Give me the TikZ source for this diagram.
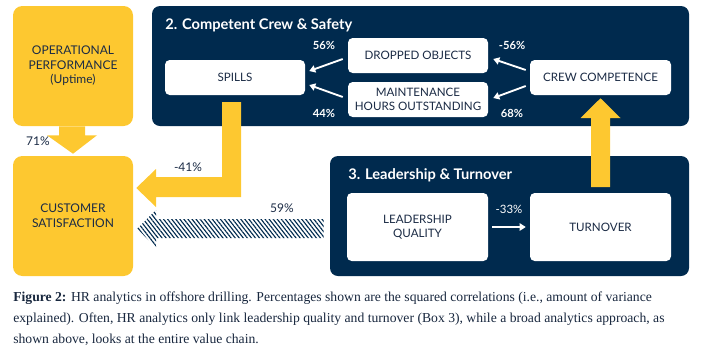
\documentclass[tikz,border=0pt]{standalone}
\usepackage{fontspec}
\setmainfont{Liberation Serif}
\newfontfamily\lato{Lato}
\newfontfamily\capfont{Liberation Serif}
\usetikzlibrary{calc,arrows.meta,patterns.meta}
\definecolor{navy}{HTML}{002A4E}
\definecolor{gold}{HTML}{FDC830}
\definecolor{ink}{HTML}{1B2B45}
\tikzset{
  panel/.style={fill=navy, draw=none, rounded corners=6pt, inner sep=0pt},
  ybox/.style={fill=gold, draw=none, rounded corners=7pt, minimum width=90pt, minimum height=90pt,
     align=center, text=ink, font=\lato\fontsize{9}{11.5}\selectfont, inner sep=0pt},
  wbox/.style={fill=white, draw=none, rounded corners=3.5pt, minimum width=105pt, minimum height=26.25pt,
     align=center, text=ink, font=\lato\fontsize{8.7}{10.5}\selectfont, inner sep=0pt},
  ttl/.style={text=white, font=\lato\bfseries\fontsize{11}{13}\selectfont, anchor=base west, inner sep=0pt},
  pct/.style={text=white, font=\lato\bfseries\fontsize{8.4}{9}\selectfont, inner sep=0pt},
  dpct/.style={text=ink, font=\lato\fontsize{9}{10}\selectfont, inner sep=0pt},
  warr/.style={draw=white, line width=1.4pt, -{Triangle[width=5.5pt,length=4.5pt]}},
  capline/.style={anchor=base west, inner sep=0pt, text=ink!90!black, font=\capfont\fontsize{10.25}{13}\selectfont},
}
\begin{document}
\begin{tikzpicture}[x=0.75pt,y=-0.75pt]
\useasboundingbox (0,0) rectangle (709,358);
% left yellow boxes
\node[ybox] (op) at (73,66) {OPERATIONAL\\PERFORMANCE\\[-1pt](Uptime)};
\node[ybox] (cs) at (73,216) {CUSTOMER\\SATISFACTION};
% down arrow op -> cs
\fill[gold] ($(op.south)+(-14,0)$) -- ($(op.south)+(12,0)$) -- ($(op.south)+(12,9)$) -- ($(op.south)+(24,9)$)
   -- ($(cs.north)+(0,-2)$) -- ($(op.south)+(-26,9)$) -- ($(op.south)+(-14,9)$) -- cycle;
\node[dpct] (p71) at (38,141) {71\%};
% panels
\node[panel, minimum width=402.75pt, minimum height=90pt] (box2) at (420.5,66) {};
\node[panel, minimum width=269.25pt, minimum height=90pt] (box3) at (509.5,216) {};
\node[ttl] (t2) at (165,29.5) {2. Competent Crew \& Safety};
\node[ttl] (t3) at (348,179) {3. Leadership \& Turnover};
% box 2 nodes
\node[wbox] (spills) at (235,77.5) {SPILLS};
\node[wbox] (dropped) at (418,55.5) {DROPPED OBJECTS};
\node[wbox] (maint) at (418,99.5) {MAINTENANCE\\HOURS OUTSTANDING};
\node[wbox, minimum width=105.75pt] (crew) at (600.5,77.5) {CREW COMPETENCE};
\draw[warr] ($(dropped.west)+(-5,3.5)$) -- ($(spills.east)+(4,-6.5)$);
\draw[warr] ($(maint.west)+(-5,-2.5)$) -- ($(spills.east)+(4,7.5)$);
\draw[warr] ($(crew.west)+(-4,-7.5)$) -- ($(dropped.east)+(5,3.5)$);
\draw[warr] ($(crew.west)+(-4,8.5)$) -- ($(maint.east)+(5,-1.5)$);
\node[pct] (p56) at (324,45) {56\%};
\node[pct] (p44) at (324,113) {44\%};
\node[pct] (pm56) at (512,45) {-56\%};
\node[pct] (p68) at (512,113) {68\%};
% yellow up arrow turnover -> crew
\fill[gold] (591,187) -- (610,187) -- (610,118) -- (620.5,118) -- ($(crew.south)+(0,3)$) -- (580.5,118) -- (591,118) -- cycle;
% box 3 nodes
\node[wbox, minimum width=105.75pt, minimum height=51pt] (leader) at (417.5,227) {LEADERSHIP\\QUALITY};
\node[wbox, minimum width=105.75pt, minimum height=51pt] (turn) at (600.5,227) {TURNOVER};
\draw[warr] ($(leader.east)+(4,0)$) -- ($(turn.west)+(-4,0)$);
\node[pct, font=\lato\fontsize{8.6}{9}\selectfont] (p33) at (509,209) {-33\%};
% yellow L arrow spills -> cs
\fill[gold] (222,102) -- (241,102) -- (241,197) -- (156,197) -- (156,207) -- ($(cs.east)+(3,-28)$)
   -- (156,169) -- (156,177) -- (222,177) -- cycle;
\node[dpct] (p41) at (188,167) {-41\%};
% hatched arrow box3 -> cs
\fill[pattern={Lines[angle=-52,distance=2.4pt,line width=0.85pt]}, pattern color=navy]
   ($(box3.west)+(-6,3)$) -- ($(box3.west)+(-6,22)$) -- (156,238) -- (156,248) -- ($(cs.east)+(4,12.5)$)
   -- (156,210) -- (156,219) -- cycle;
\node[dpct] (p59) at (282,208) {59\%};
% caption
\node[capline] (cap1) at (13,301) {\textbf{Figure 2:} HR analytics in offshore drilling. Percentages shown are the squared correlations (i.e., amount of variance};
\node[capline] (cap2) at (13,322) {explained). Often, HR analytics only link leadership quality and turnover (Box 3), while a broad analytics approach, as};
\node[capline] (cap3) at (13,343) {shown above, looks at the entire value chain.};
\end{tikzpicture}
\end{document}
